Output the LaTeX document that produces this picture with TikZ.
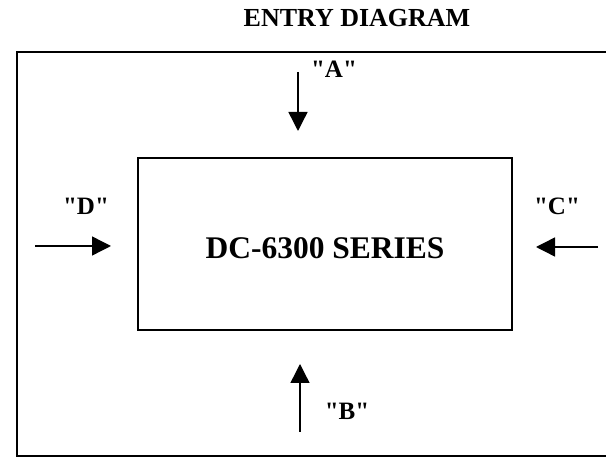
\documentclass[tikz,border=0pt]{standalone}
\usepackage{fontspec}
\setmainfont{Liberation Serif}
\usetikzlibrary{arrows.meta,positioning}
\tikzset {
  >={Triangle[length=19pt,width=19pt]},
  every node/.style={font=\bfseries\fontsize{25}{30}\selectfont},
  dir/.style={->,line width=1.4pt},
}
\newcommand{\qq}[1]{\textquotedbl#1\textquotedbl}

\begin{document}
\begin{tikzpicture}[x=1pt,y=1pt]
  \useasboundingbox (0,0) rectangle (606,458);
  \coordinate (a1) at (298,386);
  \coordinate (a2) at (298,327);
  \coordinate (b1) at (300,26);
  \coordinate (b2) at (300,94);
  \coordinate (c1) at (598,211);
  \coordinate (c2) at (536,211);
  \coordinate (d1) at (35,212);
  \coordinate (d2) at (111,212);
  \draw[line width=1.6pt] (606,406) -| (17,2) -- (606,2);
  \node (unit) at (325,214)[draw,line width=1.6pt,minimum width=374pt,minimum height=172pt]{};
  \node (series) at (325,199)[anchor=base,font=\bfseries\fontsize{31.5}{36}\selectfont]{DC-6300 SERIES};
  \node (title) at (357,431)[anchor=base,font=\bfseries\fontsize{26}{30}\selectfont]{ENTRY DIAGRAM};
  \draw[dir] (a1) -- (a2);
  \draw[dir] (b1) -- (b2);
  \draw[dir] (c1) -- (c2);
  \draw[dir] (d1) -- (d2);
  \node (la) at (334,380)[anchor=base]{\qq{A}};
  \node (lb) at (347,38)[anchor=base]{\qq{B}};
  \node (lc) at (557,243)[anchor=base]{\qq{C}};
  \node (ld) at (86,243)[anchor=base]{\qq{D}};
\end{tikzpicture}
\end{document}
